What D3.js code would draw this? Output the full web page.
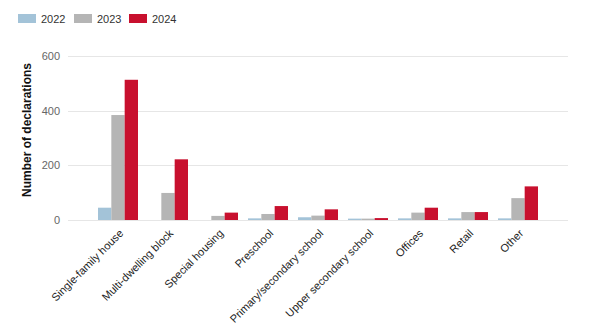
<!DOCTYPE html>
<html>
<head>
<meta charset="utf-8">
<script src="https://cdn.jsdelivr.net/npm/d3@7"></script>
<style>
  html, body { margin: 0; padding: 0; background: #fff; }
  svg { display: block; font-family: "Liberation Sans", Arial, sans-serif; }
</style>
</head>
<body>
<svg id="chart" width="600" height="335"></svg>
<script>
// Building types
const categories = [
  "Single-family house", "Multi-dwelling block", "Special housing", "Preschool",
  "Primary/secondary school", "Upper secondary school", "Offices", "Retail", "Other"
];
const years = ["2022", "2023", "2024"];
const values2022 = [45, 0, 0, 6, 10, 5, 6, 6, 6];
const values2023 = [384, 99, 15, 22, 16, 5, 27, 29, 80];
const values2024 = [513, 222, 27, 51, 39, 7, 45, 29, 123];
const yTicks = [0, 200, 400, 600];
const yTitle = "Number of declarations";

const colors = { "2022": "#a3c3d8", "2023": "#b5b5b5", "2024": "#c8102e" };
const seriesByYear = { "2022": values2022, "2023": values2023, "2024": values2024 };

const svg = d3.select("#chart");
const plot = { left: 68, right: 568, top: 56, bottom: 220 };

const x = d3.scaleBand()
  .domain(categories)
  .range([plot.left, plot.right])
  .paddingInner(0)
  .paddingOuter(0.5);

const xInner = d3.scaleBand()
  .domain(years)
  .range([5, x.bandwidth() - 5])
  .padding(0);

const y = d3.scaleLinear()
  .domain([0, 600])
  .range([plot.bottom, plot.top]);

// Horizontal gridlines
svg.append("g")
  .selectAll("line")
  .data(yTicks)
  .join("line")
  .attr("x1", plot.left)
  .attr("x2", plot.right)
  .attr("y1", d => Math.round(y(d)) + 0.5)
  .attr("y2", d => Math.round(y(d)) + 0.5)
  .attr("stroke", "#e6e6e6")
  .attr("stroke-width", 1);

// Y axis labels
const yAxis = d3.axisLeft(y).tickValues(yTicks).tickSize(0).tickPadding(0);
svg.append("g")
  .attr("transform", `translate(60,0)`)
  .call(yAxis)
  .call(g => g.select(".domain").remove())
  .call(g => g.selectAll("text")
    .attr("fill", "#666")
    .style("font-size", "11px")
    .style("font-family", "'Liberation Sans', Arial, sans-serif"));

// Y axis title
svg.append("text")
  .attr("transform", `translate(31,130) rotate(-90)`)
  .attr("text-anchor", "middle")
  .attr("fill", "#111")
  .style("font-size", "12px")
  .style("font-weight", "bold")
  .text(yTitle);

// Bars
const groups = svg.append("g")
  .selectAll("g")
  .data(categories)
  .join("g")
  .attr("transform", d => `translate(${x(d)},0)`);

groups.selectAll("rect")
  .data((c, i) => years.map(yr => ({ year: yr, value: seriesByYear[yr][i] })))
  .join("rect")
  .attr("x", d => xInner(d.year))
  .attr("width", xInner.bandwidth())
  .attr("y", d => y(d.value))
  .attr("height", d => y(0) - y(d.value))
  .attr("fill", d => colors[d.year]);

// X axis labels, rotated
const xAxis = d3.axisBottom(x).tickSize(0).tickPadding(0);
svg.append("g")
  .attr("transform", `translate(0,${plot.bottom})`)
  .call(xAxis)
  .call(g => g.select(".domain").remove())
  .call(g => g.selectAll("text")
    .attr("fill", "#222")
    .attr("text-anchor", "end")
    .attr("dy", "0")
    .attr("transform", "translate(6,14) rotate(-45)")
    .style("font-size", "11px")
    .style("font-family", "'Liberation Sans', Arial, sans-serif"));

// Legend
const legendX = [18, 74, 129];
const legend = svg.append("g")
  .selectAll("g")
  .data(years)
  .join("g")
  .attr("transform", (d, i) => `translate(${legendX[i]},14)`);
legend.append("rect")
  .attr("width", 18)
  .attr("height", 9)
  .attr("fill", d => colors[d]);
legend.append("text")
  .attr("x", 23)
  .attr("y", 8.5)
  .attr("fill", "#333")
  .style("font-size", "11px")
  .text(d => d);
</script>
</body>
</html>
